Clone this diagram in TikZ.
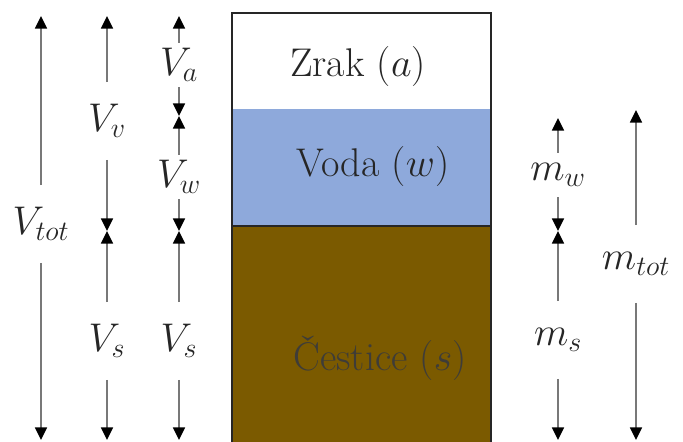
\RequirePackage{fix-cm}
\documentclass[tikz,border=0pt]{standalone}
\usepackage{xcolor}
\usetikzlibrary{arrows.meta}
\definecolor{waterblue}{RGB}{142,169,219}
\definecolor{soilbrown}{RGB}{123,90,0}
\definecolor{dimgray}{RGB}{120,120,120}
\definecolor{textdark}{RGB}{38,38,38}
\definecolor{soiltext}{RGB}{62,60,56}
\tikzset{%
  dimline/.style={draw=dimgray,line width=1.3pt,-{Triangle[width=8.5pt,length=9pt,color=black]}},
  dimlabel/.style={inner sep=0pt,minimum height=31pt,text=textdark,font=\fontsize{28.5}{33}\selectfont},
  longlabel/.style={dimlabel,minimum height=55pt},
  phase/.style={font=\fontsize{28.5}{33}\selectfont,text=textdark}
}
\begin{document}
\begin{tikzpicture}[x=0.025cm,y=-0.025cm]
  \useasboundingbox (0,0) rectangle (683,441);
  % soil column
  \fill[white] (232,13) rectangle (491,109);
  \fill[waterblue] (232,109) rectangle (491,226);
  \fill[soilbrown] (232,226) rectangle (491,450);
  \draw[line width=1.9pt,textdark] (232,450) -- (232,13) -- (491,13) -- (491,450);
  \draw[line width=1.6pt,textdark] (232,226) -- (491,226);

  \node[phase] (air) at (358,66) {Zrak ($a$)};
  \node[phase] (water) at (373,166) {Voda ($w$)};
  \node[phase,text=soiltext] (solid) at (380,358) {Čestice ($s$)};

  % arrow ends
  \coordinate (t1) at (41,16);
  \coordinate (b1) at (41,440);
  \coordinate (t2) at (107,16);
  \coordinate (m2) at (107,231);
  \coordinate (b2) at (107,440);
  \coordinate (t3) at (179,16);
  \coordinate (a3) at (179,116);
  \coordinate (m3) at (179,231);
  \coordinate (b3) at (179,440);
  \coordinate (t4) at (558,118);
  \coordinate (m4) at (558,231);
  \coordinate (b4) at (558,440);
  \coordinate (t5) at (636,110);
  \coordinate (b5) at (636,440);

  % volumes
  \node[longlabel] (Vtot) at (41,224) {$V_{tot}$};
  \node[longlabel] (Vv) at (107,121) {$V_v$};
  \node[longlabel] (Vs1) at (107,341) {$V_s$};
  \node[dimlabel] (Va) at (179,65) {$V_a$};
  \node[dimlabel] (Vw) at (179,177) {$V_w$};
  \node[longlabel] (Vs2) at (179,341) {$V_s$};
  % masses
  \node[dimlabel] (mw) at (558,175) {$m_w$};
  \node[longlabel] (ms) at (558,340) {$m_s$};
  \node[longlabel] (mtot) at (636,264) {$m_{tot}$};

  \draw[dimline] (Vtot) -- (t1);
  \draw[dimline] (Vtot) -- (b1);
  \draw[dimline] (Vv) -- (t2);
  \draw[dimline] (Vv) -- (m2);
  \draw[dimline] (Vs1) -- (m2);
  \draw[dimline] (Vs1) -- (b2);
  \draw[dimline] (Va) -- (t3);
  \draw[dimline] (Va) -- (a3);
  \draw[dimline] (Vw) -- (a3);
  \draw[dimline] (Vw) -- (m3);
  \draw[dimline] (Vs2) -- (m3);
  \draw[dimline] (Vs2) -- (b3);
  \draw[dimline] (mw) -- (t4);
  \draw[dimline] (mw) -- (m4);
  \draw[dimline] (ms) -- (m4);
  \draw[dimline] (ms) -- (b4);
  \draw[dimline] (mtot) -- (t5);
  \draw[dimline] (mtot) -- (b5);
\end{tikzpicture}
\end{document}
